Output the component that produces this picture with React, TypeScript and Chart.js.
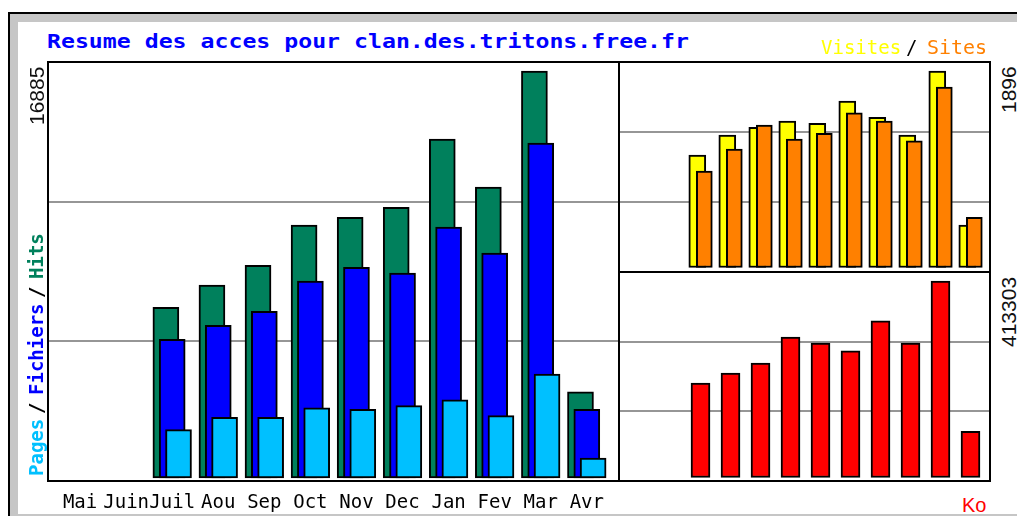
import React, { useEffect, useRef } from 'react';
import { Chart, registerables } from 'chart.js';

Chart.register(...registerables);

// ---------- data ----------
const MONTHS = ['Mai', 'Juin', 'Juil', 'Aou', 'Sep', 'Oct', 'Nov', 'Dec', 'Jan', 'Fev', 'Mar', 'Avr'];
const HITS = [null, null, 7082, 8007, 8824, 10496, 10815, 11230, 14064, 12073, 16885, 3580];
const FICHIERS = [null, null, 5754, 6335, 6916, 8173, 8741, 8505, 10413, 9334, 13898, 2850];
const PAGES = [null, null, 2004, 2518, 2518, 2916, 2850, 3000, 3248, 2585, 4315, 830];
const VISITES = [null, null, 1085, 1278, 1352, 1413, 1391, 1606, 1449, 1278, 1896, 409];
const SITES = [null, null, 930, 1143, 1375, 1239, 1294, 1493, 1413, 1223, 1742, 483];
const KO = [null, null, 198700, 219650, 240630, 295180, 282590, 266440, 329380, 282590, 413303, 97140];

const TITLE = 'Resume des acces pour clan.des.tritons.free.fr';

// ---------- styles ----------
const MONO = "'DejaVu Sans Mono', monospace";
const SANS = "'Liberation Sans', Arial, sans-serif";
const C_HITS = '#00805c';
const C_FILES = '#0000ff';
const C_PAGES = '#00c0ff';
const C_VISITS = '#ffff00';
const C_SITES = '#ff8000';
const C_KO = '#ff0000';
const GRID = '#969696';

const maxOf = (a: (number | null)[]) => Math.max(...(a.filter((v) => v != null) as number[]));

function yRange(maxValue: number, areaH: number, zeroGap: number, topGap: number) {
  const upp = maxValue / (areaH - zeroGap - topGap);
  return { min: -zeroGap * upp, max: maxValue + topGap * upp };
}

function gridThirds(scale: any) {
  const { min, max } = scale;
  scale.ticks = [1, 2].map((k) => ({ value: min + ((max - min) * k) / 3 }));
}

function series(values: (number | null)[], offset: number, color: string, thick: number, order: number) {
  return {
    data: values.flatMap((v, i) => (v == null ? [] : [{ x: i + offset, y: v }])),
    backgroundColor: color,
    borderColor: '#000',
    borderWidth: 2,
    borderSkipped: false,
    barThickness: thick,
    grouped: false,
    order,
  };
}

function makeConfig(p: {
  datasets: any[];
  xMin: number;
  xMax: number;
  y: { min: number; max: number };
  showMonths: boolean;
  axisH?: number;
}): any {
  return {
    type: 'bar',
    data: { datasets: p.datasets },
    options: {
      responsive: false,
      animation: false,
      events: [],
      layout: { padding: 0 },
      plugins: { legend: { display: false }, tooltip: { enabled: false }, title: { display: false } },
      scales: {
        x: {
          type: 'linear',
          min: p.xMin,
          max: p.xMax,
          offset: false,
          display: p.showMonths,
          grid: { display: false, drawTicks: false },
          border: { display: false },
          afterBuildTicks: (s: any) => {
            s.ticks = MONTHS.map((_, i) => ({ value: i }));
          },
          afterFit: (s: any) => {
            if (p.axisH) s.height = p.axisH;
          },
          ticks: {
            autoSkip: false,
            maxRotation: 0,
            minRotation: 0,
            padding: 11,
            color: '#000',
            font: { family: MONO, size: 19 },
            callback: (v: any) => MONTHS[Math.round(Number(v))] ?? '',
          },
        },
        y: {
          type: 'linear',
          min: p.y.min,
          max: p.y.max,
          display: true,
          ticks: { display: false },
          grid: { color: GRID, lineWidth: 2, drawTicks: false },
          border: { display: false },
          afterBuildTicks: gridThirds,
        },
      },
    },
  };
}

function ChartCanvas({ left, top, width, height, config }: any) {
  const ref = useRef<HTMLCanvasElement>(null);
  useEffect(() => {
    const chart = new Chart(ref.current as HTMLCanvasElement, config());
    return () => chart.destroy();
  }, []);
  return (
    <canvas
      ref={ref}
      width={width}
      height={height}
      style={{ position: 'absolute', left, top, width, height, display: 'block' }}
    />
  );
}

const BASE = 0.846;

function HText({ x, baseline, size, family, color, weight, spacing, stretch, children }: any) {
  return (
    <span
      style={{
        position: 'absolute',
        left: x,
        top: baseline - BASE * size,
        fontSize: size,
        lineHeight: size + 'px',
        fontFamily: family,
        color,
        fontWeight: weight ?? 'normal',
        letterSpacing: spacing ?? 0,
        whiteSpace: 'nowrap',
        transform: stretch ? `scaleX(${stretch})` : undefined,
        transformOrigin: '0 0',
      }}
    >
      {children}
    </span>
  );
}

function VText({ baselineX, startY, size, family, color, weight, children }: any) {
  return (
    <span
      style={{
        position: 'absolute',
        left: baselineX - BASE * size,
        top: startY,
        transform: 'rotate(-90deg)',
        transformOrigin: '0 0',
        fontSize: size,
        lineHeight: size + 'px',
        fontFamily: family,
        color,
        fontWeight: weight ?? 'normal',
        whiteSpace: 'nowrap',
      }}
    >
      {children}
    </span>
  );
}

const box = (left: number, top: number, width: number, height: number): any => ({
  position: 'absolute',
  left,
  top,
  width,
  height,
  border: '2px solid #000',
  boxSizing: 'border-box',
  pointerEvents: 'none',
});

const fill = (left: number, top: number, width: number, height: number, bg: string): any => ({
  position: 'absolute',
  left,
  top,
  width,
  height,
  background: bg,
});

export default function App() {
  const leftCfg = () =>
    makeConfig({
      datasets: [
        series(HITS, -0.137, C_HITS, 26, 3),
        series(FICHIERS, 0, C_FILES, 26, 2),
        series(PAGES, 0.137, C_PAGES, 26, 1),
      ],
      xMin: -0.696,
      xMax: 11.699,
      y: yRange(maxOf(HITS), 419, 3, 9),
      showMonths: true,
      axisH: 35,
    });
  const topCfg = () =>
    makeConfig({
      datasets: [series(VISITES, -0.107, C_VISITS, 17, 2), series(SITES, 0.127, C_SITES, 16, 1)],
      xMin: -0.717,
      xMax: 11.65,
      y: yRange(maxOf(VISITES), 210, 4.5, 9),
      showMonths: false,
    });
  const botCfg = () =>
    makeConfig({
      datasets: [series(KO, 0, C_KO, 19, 1)],
      xMin: -0.717,
      xMax: 11.65,
      y: yRange(maxOf(KO), 209, 3.5, 9),
      showMonths: false,
    });

  return (
    <div
      style={{
        position: 'fixed',
        left: 0,
        top: 0,
        width: 1017,
        height: 516,
        overflow: 'hidden',
        background: '#fff',
      }}
    >
      {/* frame */}
      <div style={fill(8, 12, 1009, 2, '#000')} />
      <div style={fill(8, 12, 2, 504, '#000')} />
      <div style={fill(10, 14, 1007, 8, '#c6c6c6')} />
      <div style={fill(10, 14, 8, 502, '#c6c6c6')} />
      <div style={fill(18, 514, 999, 2, '#c6c6c6')} />

      {/* charts */}
      <ChartCanvas left={48} top={62} width={571} height={454} config={leftCfg} />
      <ChartCanvas left={619} top={62} width={371} height={210} config={topCfg} />
      <ChartCanvas left={619} top={272} width={371} height={209} config={botCfg} />

      {/* plot borders */}
      <div style={box(47, 61, 573, 421)} />
      <div style={box(618, 61, 373, 212)} />
      <div style={box(618, 271, 373, 211)} />

      {/* title & legends */}
      <HText x={47} baseline={48} size={19} family={MONO} color={C_FILES} weight="bold" stretch={1.22}>
        {TITLE}
      </HText>
      <HText x={821} baseline={54.5} size={19} family={MONO} color={C_VISITS}>
        Visites
      </HText>
      <HText x={906} baseline={54.5} size={19} family={MONO} color="#000">
        /
      </HText>
      <HText x={926.5} baseline={54.5} size={19} family={MONO} color={C_SITES} stretch={1.05}>
        Sites
      </HText>

      <VText baselineX={43.5} startY={476} size={19} family={MONO} color={C_PAGES} weight="bold">
        Pages
      </VText>
      <VText baselineX={43.5} startY={414} size={19} family={MONO} color="#000" weight="bold">
        /
      </VText>
      <VText baselineX={43.5} startY={395} size={19} family={MONO} color={C_FILES} weight="bold">
        Fichiers
      </VText>
      <VText baselineX={43.5} startY={298} size={19} family={MONO} color="#000" weight="bold">
        /
      </VText>
      <VText baselineX={43.5} startY={279} size={19} family={MONO} color={C_HITS} weight="bold">
        Hits
      </VText>

      <VText baselineX={43.5} startY={125} size={21} family={SANS} color="#111">
        {String(maxOf(HITS))}
      </VText>
      <VText baselineX={1016} startY={113} size={21} family={SANS} color="#111">
        {String(maxOf(VISITES))}
      </VText>
      <VText baselineX={1016} startY={347} size={21} family={SANS} color="#111">
        {String(maxOf(KO))}
      </VText>

      <HText x={962} baseline={511.5} size={20} family={SANS} color={C_KO}>
        Ko
      </HText>
    </div>
  );
}
